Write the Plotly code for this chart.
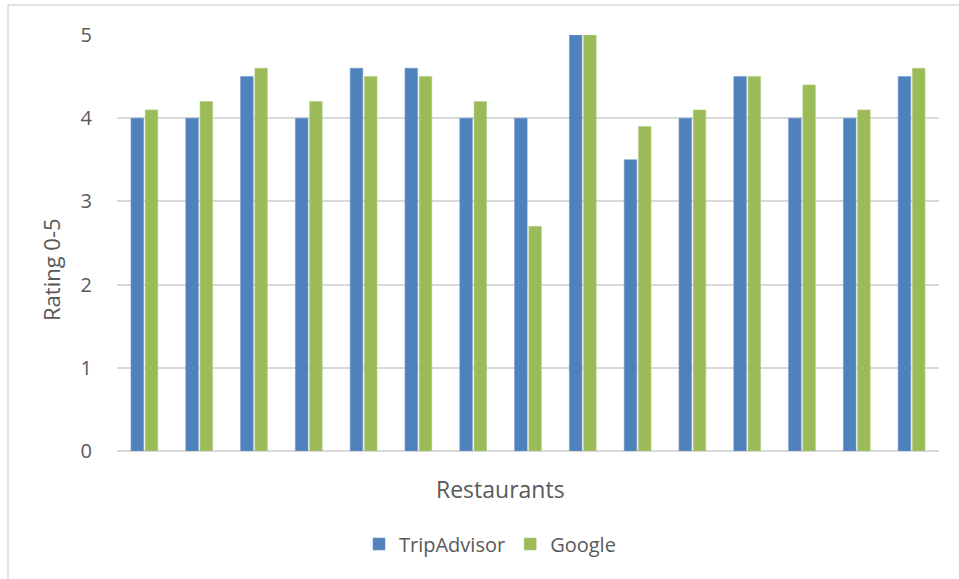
import plotly.graph_objects as go

restaurants = [f"R{i}" for i in range(1, 16)]
tripadvisor = [4, 4, 4.5, 4, 4.6, 4.6, 4, 4, 5, 3.5, 4, 4.5, 4, 4, 4.5]
google = [4.1, 4.2, 4.6, 4.2, 4.5, 4.5, 4.2, 2.7, 5, 3.9, 4.1, 4.5, 4.4, 4.1, 4.6]

FONT = "Open Sans"
TEXT = "#595959"
W, H = 959, 579
L, R, T, B = 117, 20, 35, 128
PW, PH = W - L - R, H - T - B


def px_x(x):
    return (x - L) / PW


def px_y(y):
    return (H - B - y) / PH


fig = go.Figure()
fig.add_trace(go.Bar(x=restaurants, y=tripadvisor, name="TripAdvisor",
                     marker=dict(color="#4F81BD", line=dict(color="#6F96C8", width=0.6))))
fig.add_trace(go.Bar(x=restaurants, y=google, name="Google",
                     marker=dict(color="#9BBB59", line=dict(color="#B3CC80", width=0.6))))

fig.update_layout(
    width=W, height=H,
    margin=dict(l=L, r=R, t=T, b=B, autoexpand=False),
    paper_bgcolor="white", plot_bgcolor="white",
    barmode="group", bargap=0.48, bargroupgap=0.12,
    font=dict(family=FONT, color=TEXT, size=18),
    showlegend=True,
    legend=dict(orientation="h", xref="container", yref="container",
                x=490 / W, xanchor="center", y=(H - 544) / H, yanchor="middle",
                font=dict(size=20, color=TEXT), itemwidth=30, traceorder="normal"),
    xaxis=dict(showticklabels=False, ticks="", showgrid=False, showline=False),
    yaxis=dict(range=[0, 5], dtick=1, showgrid=True, gridcolor="#D9D9D9", gridwidth=1.5,
               zeroline=True, zerolinecolor="#D9D9D9", zerolinewidth=1.5,
               showline=False, ticks="", ticklabelstandoff=24,
               tickfont=dict(size=20, color=TEXT)),
    annotations=[
        dict(text="Restaurants", xref="paper", yref="paper", x=px_x(500), y=px_y(489),
             xanchor="center", yanchor="middle", showarrow=False,
             font=dict(size=23, color=TEXT)),
        dict(text="Rating 0-5", xref="paper", yref="paper", x=px_x(51), y=px_y(270),
             xanchor="center", yanchor="middle", textangle=-90, showarrow=False,
             font=dict(size=22, color=TEXT)),
    ],
    shapes=[dict(type="rect", xref="paper", yref="paper",
                 x0=px_x(8), x1=px_x(W + 20), y0=px_y(H + 20), y1=px_y(5),
                 line=dict(color="#D9D9D9", width=1.5), layer="below")],
)

fig.write_html("out.html")
